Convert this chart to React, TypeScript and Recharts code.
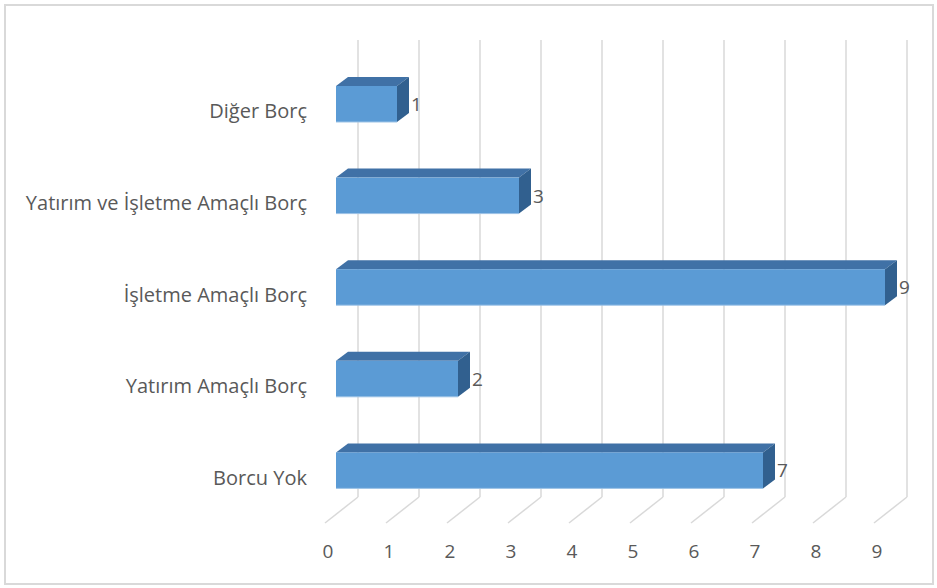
import React from 'react';
import { BarChart, Bar, XAxis, YAxis, CartesianGrid, LabelList } from 'recharts';

const categories = ['Diğer Borç', 'Yatırım ve İşletme Amaçlı Borç', 'İşletme Amaçlı Borç', 'Yatırım Amaçlı Borç', 'Borcu Yok'];
const values = [1, 3, 9, 2, 7];
const xTicks = [0, 1, 2, 3, 4, 5, 6, 7, 8, 9];

const data = categories.map((name, i) => ({ name, value: values[i] }));

const FONT = '"Open Sans", "Noto Sans", sans-serif';
const TEXT = '#595959';
const DX = 12;
const DY = 9;

const Bar3D = (props: any) => {
  const { x, y, width, height } = props;
  const front = '#5B9BD5';
  const top = '#4071A6';
  const side = '#31608F';
  return (
    <g>
      <polygon
        points={`${x},${y} ${x + DX},${y - DY} ${x + width + DX},${y - DY} ${x + width},${y}`}
        fill={top}
      />
      <polygon
        points={`${x + width},${y} ${x + width + DX},${y - DY} ${x + width + DX},${y + height - DY} ${x + width},${y + height}`}
        fill={side}
      />
      <rect x={x} y={y} width={width} height={height} fill={front} />
      <line x1={x} y1={y + height} x2={x + width} y2={y + height} stroke="#9DC3E6" strokeWidth={1} />
    </g>
  );
};

const gridLine = (props: any) => {
  const { x1 } = props;
  const bx = x1 + 22;
  return (
    <g key={props.key ?? `g-${x1}`}>
      <line x1={bx} y1={40} x2={bx} y2={497} stroke="#d9d9d9" strokeWidth={1.5} />
      <line x1={bx} y1={497} x2={x1 - 11} y2={523} stroke="#d9d9d9" strokeWidth={1.5} />
    </g>
  );
};

const XTick = (props: any) => {
  const { x, payload } = props;
  return (
    <text x={x - 8} y={558} textAnchor="middle" fontFamily={FONT} fontSize={19} fill={TEXT}>
      {payload.value}
    </text>
  );
};

const YTick = (props: any) => {
  const { y, payload } = props;
  return (
    <text x={307} y={y + 14.5} textAnchor="end" fontFamily={FONT} fontSize={20} fill={TEXT}>
      {payload.value}
    </text>
  );
};

const ValueLabel = (props: any) => {
  const { x, y, width, height, value } = props;
  return (
    <text x={x + width + DX + 2} y={y + height / 2 + 7} textAnchor="start" fontFamily={FONT} fontSize={19} fill={TEXT}>
      {value}
    </text>
  );
};

export default function App() {
  return (
    <div style={{ position: 'absolute', left: 0, top: 0, width: 937, height: 588, background: '#fff' }}>
      <div
        style={{
          position: 'absolute',
          left: 4,
          top: 4,
          width: 926,
          height: 577,
          border: '2px solid #d9d9d9',
        }}
      />
      <div style={{ position: 'absolute', left: 0, top: 0 }}>
        <BarChart
          width={937}
          height={588}
          data={data}
          layout="vertical"
          margin={{ top: 58, right: 52, bottom: 0, left: 0 }}
          barCategoryGap={0}
        >
          <CartesianGrid horizontal={false} vertical={gridLine} />
          <XAxis
            type="number"
            domain={[0, 9]}
            ticks={xTicks}
            axisLine={false}
            tickLine={false}
            height={72}
            tick={<XTick />}
            interval={0}
          />
          <YAxis
            type="category"
            dataKey="name"
            width={336}
            axisLine={false}
            tickLine={false}
            tick={<YTick />}
            interval={0}
          />
          <Bar dataKey="value" barSize={36} shape={<Bar3D />} isAnimationActive={false}>
            <LabelList dataKey="value" content={<ValueLabel />} />
          </Bar>
        </BarChart>
      </div>
    </div>
  );
}
